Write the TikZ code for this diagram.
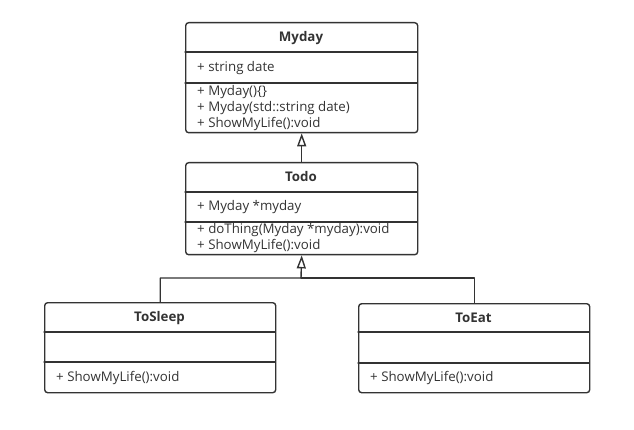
\documentclass[tikz,border=0pt]{standalone}
\usepackage{fontspec}
\setmainfont{Open Sans}
\usetikzlibrary{arrows.meta}
\definecolor{LineGray}{HTML}{333333}
\definecolor{TextGray}{HTML}{333333}

\tikzset{
  classbox/.style={draw=LineGray,line width=1.4pt,rounded corners=3pt,anchor=north west,inner sep=0pt},
  divider/.style={draw=LineGray,line width=1.2pt},
  title/.style={font=\fontsize{13.3}{15}\selectfont\bfseries,text=TextGray,inner sep=0pt},
  member/.style={font=\fontsize{13.3}{15}\selectfont,text=TextGray,anchor=west,inner sep=0pt},
  inherit/.style={draw=LineGray,line width=1.4pt,-{Triangle[open,length=13pt,width=9pt]}},
  link/.style={draw=LineGray,line width=1.4pt}
}

\begin{document}
\begin{tikzpicture}[x=1pt,y=-1pt,line cap=round,line join=round]
  \useasboundingbox (0,0) rectangle (634,430);

  % Myday
  \node[classbox,minimum width=232pt,minimum height=110pt] (myday) at (185,22) {};
  \draw[divider] (185,52) -- (417,52) (185,83) -- (417,83);
  \node[title] (mydayname) at (301,38) {Myday};
  \node[member] (mydaydate) at (197,68) {+ string date};
  \node[member] (mydayctor) at (197,92) {+ Myday()\{\}};
  \node[member] (mydayctors) at (197,108) {+ Myday(std::string date)};
  \node[member] (mydayshow) at (197,124) {+ ShowMyLife():void};

  % Todo
  \node[classbox,minimum width=232pt,minimum height=92pt] (todo) at (185,162) {};
  \draw[divider] (185,192) -- (417,192) (185,222) -- (417,222);
  \node[title] (todoname) at (301,177) {Todo};
  \node[member] (todoattr) at (197,207) {+ Myday *myday};
  \node[member] (tododo) at (197,230) {+ doThing(Myday *myday):void};
  \node[member] (todoshow) at (197,246) {+ ShowMyLife():void};

  % ToSleep
  \node[classbox,minimum width=231pt,minimum height=90pt] (tosleep) at (44,302) {};
  \draw[divider] (44,332) -- (275,332) (44,362) -- (275,362);
  \node[title] (tosleepname) at (159.5,318) {ToSleep};
  \node[member] (tosleepshow) at (56,378) {+ ShowMyLife():void};

  % ToEat
  \node[classbox,minimum width=231pt,minimum height=89pt] (toeat) at (358,303) {};
  \draw[divider] (358,332) -- (589,332) (358,363) -- (589,363);
  \node[title] (toeatname) at (473.5,318) {ToEat};
  \node[member] (toeatshow) at (370,378) {+ ShowMyLife():void};

  % inheritance
  \coordinate (joint) at (301,278);
  \draw[inherit] (todo.north) -- (myday.south);
  \draw[inherit] (tosleep.north) |- (joint) -- (todo.south);
  \draw[link] (toeat.north) |- (joint);
\end{tikzpicture}
\end{document}
